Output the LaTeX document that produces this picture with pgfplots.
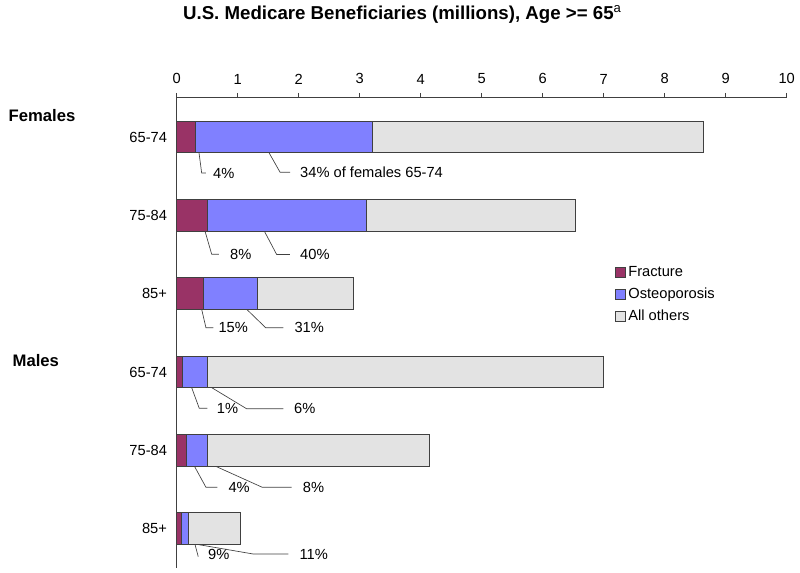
\documentclass[border=0pt]{standalone}
\usepackage{pgfplots}
\pgfplotsset{compat=1.18}
\usepackage{pgfplotstable}
\usepackage{fontspec}
\setmainfont{Liberation Sans}

\definecolor{fracture}{HTML}{993366}
\definecolor{osteo}{HTML}{8080FF}
\definecolor{others}{HTML}{E3E3E3}
\definecolor{edgegray}{HTML}{404040}
\newcommand\lblfont{\fontsize{11}{13}\selectfont}

% millions; rows: F 65-74, F 75-84, F 85+, M 65-74, M 75-84, M 85+
\pgfplotstableread{
grp frac  osteo other
0   0.31  2.90  5.43
1   0.50  2.61  3.43
2   0.44  0.89  1.57
3   0.09  0.41  6.50
4   0.16  0.34  3.65
5   0.08  0.12  0.85
}\benef

\begin{document}
\begin{tikzpicture}
\begin{axis}[
    scale only axis, width=457.5pt, height=352.5pt,
    xbar stacked, bar width=23.6pt,
    xmin=0, xmax=10, ymin=-0.5, ymax=5.5, y dir=reverse,
    axis x line*=top, axis y line*=left,
    axis line style={edgegray, line width=0.75pt},
    xtick={0,...,10}, ytick={0,...,5},
    yticklabels={65-74,75-84,85+,65-74,75-84,85+},
    tick align=outside, major tick length=3.75pt,
    x tick style={edgegray, line width=0.6pt}, y tick style={draw=none},
    ticklabel style={font=\lblfont},
    xticklabel style={yshift=3pt},
    /pgf/number format/assume math mode=true,
    clip=false,
    legend style={draw=none, fill=none, font=\lblfont, at={(0.718,0.647)},
      anchor=north west, row sep=3pt, inner sep=0pt},
    legend cell align=left,
    legend image code/.code={\draw[#1, line width=0.6pt] (0pt,-3.75pt) rectangle (7.5pt,3.75pt);},
  ]
  \addplot[fill=fracture, draw=edgegray, line width=0.75pt] table[x=frac, y=grp] {\benef};
  \addplot[fill=osteo, draw=edgegray, line width=0.75pt] table[x=osteo, y=grp] {\benef};
  \addplot[fill=others, draw=edgegray, line width=0.75pt] table[x=other, y=grp] {\benef};
  \legend{Fracture, Osteoporosis, All others}

  \coordinate (bl) at (0,5.5);

  % title and group labels
  \node[anchor=base, font=\fontsize{14}{16}\selectfont\bfseries] at (3.70,-1.494)
    {U.S. Medicare Beneficiaries (millions), Age >= 65\textsuperscript{\mdseries a}};
  \node[anchor=base west, font=\fontsize{12.5}{15}\selectfont\bfseries] at (-2.831,-0.195) {Females};
  \node[anchor=base west, font=\fontsize{12.5}{15}\selectfont\bfseries] at (-2.766,2.933) {Males};

  % leader lines
  \draw[edgegray, line width=0.5pt] (0.366,0.20) -- (0.410,0.46) -- (0.480,0.46);
  \draw[edgegray, line width=0.5pt] (1.513,0.20) -- (1.695,0.45) -- (1.859,0.45);
  \draw[edgegray, line width=0.5pt] (0.464,1.20) -- (0.574,1.497) -- (0.693,1.497);
  \draw[edgegray, line width=0.5pt] (1.436,1.20) -- (1.639,1.50) -- (1.857,1.50);
  \draw[edgegray, line width=0.5pt] (0.410,2.20) -- (0.480,2.435) -- (0.600,2.435);
  \draw[edgegray, line width=0.5pt] (1.148,2.20) -- (1.459,2.435) -- (1.748,2.435);
  \draw[edgegray, line width=0.5pt] (0.246,3.20) -- (0.370,3.463) -- (0.502,3.463);
  \draw[edgegray, line width=0.5pt] (0.574,3.20) -- (1.148,3.47) -- (1.748,3.47);
  \draw[edgegray, line width=0.5pt] (0.289,4.20) -- (0.480,4.472) -- (0.666,4.472);
  \draw[edgegray, line width=0.5pt] (0.628,4.20) -- (1.403,4.472) -- (1.885,4.472);
  \draw[edgegray, line width=0.5pt] (0.300,5.20) -- (0.354,5.358);
  \draw[edgegray, line width=0.5pt] (0.328,5.20) -- (1.256,5.324) -- (1.830,5.324);

  \node[anchor=west, font=\lblfont, inner sep=0pt] at (0.595,0.46) {4\%};
  \node[anchor=west, font=\lblfont, inner sep=0pt] at (2.021,0.45) {34\% of females 65-74};
  \node[anchor=west, font=\lblfont, inner sep=0pt] at (0.874,1.50) {8\%};
  \node[anchor=west, font=\lblfont, inner sep=0pt] at (2.021,1.50) {40\%};
  \node[anchor=west, font=\lblfont, inner sep=0pt] at (0.682,2.435) {15\%};
  \node[anchor=west, font=\lblfont, inner sep=0pt] at (1.928,2.435) {31\%};
  \node[anchor=west, font=\lblfont, inner sep=0pt] at (0.656,3.463) {1\%};
  \node[anchor=west, font=\lblfont, inner sep=0pt] at (1.923,3.47) {6\%};
  \node[anchor=west, font=\lblfont, inner sep=0pt] at (0.846,4.472) {4\%};
  \node[anchor=west, font=\lblfont, inner sep=0pt] at (2.066,4.472) {8\%};
  \node[anchor=west, font=\lblfont, inner sep=0pt] at (0.513,5.324) {9\%};
  \node[anchor=west, font=\lblfont, inner sep=0pt] at (2.010,5.324) {11\%};
\end{axis}
\pgfresetboundingbox
\path[use as bounding box] (bl) ++(-132.5pt,-3.9pt) rectangle ++(600pt,429.75pt);
\end{tikzpicture}
\end{document}
